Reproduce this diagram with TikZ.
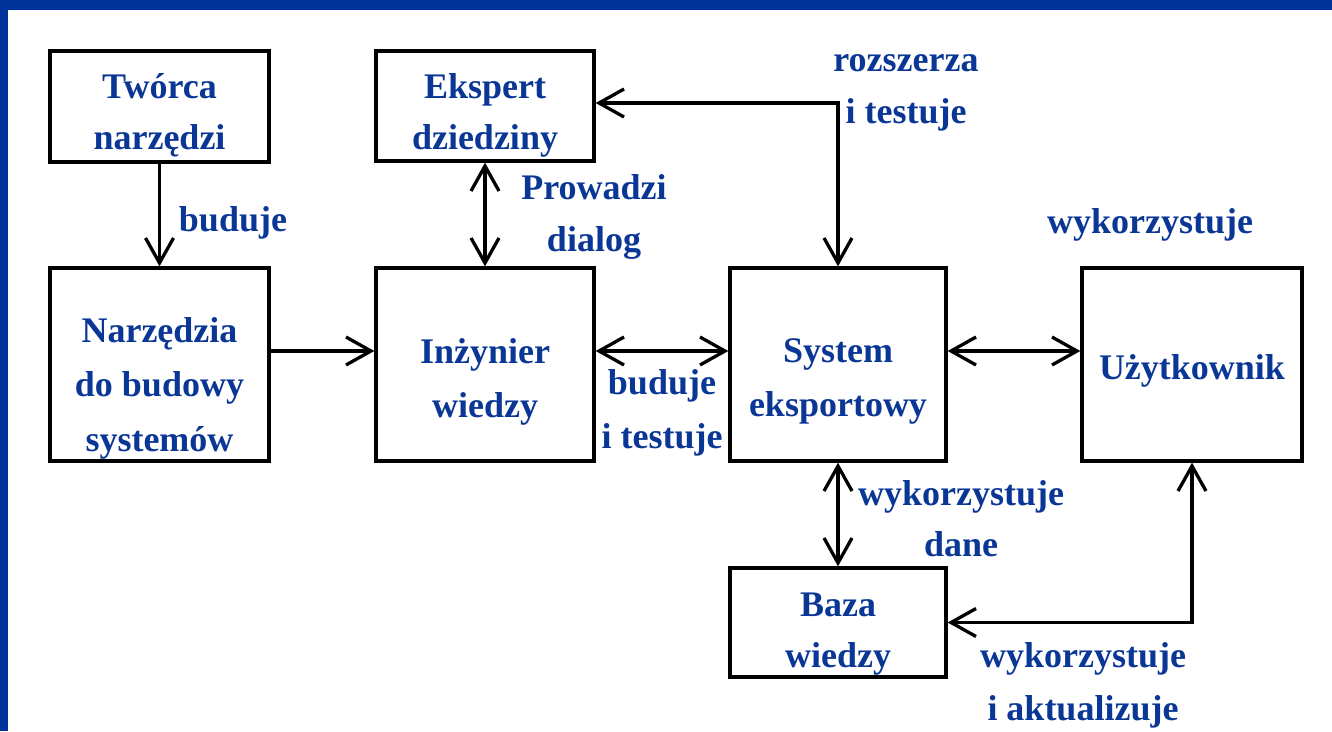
\documentclass[tikz,border=0pt]{standalone}
\usepackage{fontspec}
\setmainfont{Liberation Serif}
\usetikzlibrary{arrows.meta}
\definecolor{barblue}{RGB}{0,51,153}
\definecolor{txtblue}{RGB}{10,55,150}
% multi-line text whose baseline is the first line; #1 = line spacing
\newcommand\mylines[2]{\fontsize{36}{#1}\selectfont\begin{tabular}[t]{@{}c@{}}#2\end{tabular}}
\begin{document}
\begin{tikzpicture}[x=1pt,y=-1pt,
  box/.style={draw=black,line width=3.3pt,fill=white,inner sep=0pt},
  txt/.style={text=txtblue,anchor=base,inner sep=0pt,font=\fontsize{36}{52}\selectfont\bfseries},
  conn/.style={line width=3.3pt,draw=black},
  >={Straight Barb[length=25pt,width=28pt,line width=3.3pt]}]
\useasboundingbox (0,0) rectangle (1332,731);
\fill[white] (0,0) rectangle (1332,731);
\fill[barblue] (0,0) rectangle (1332,10);
\fill[barblue] (0,0) rectangle (8,731);

% boxes
\node[box,minimum width=219pt,minimum height=111pt] (tworca) at (159.5,106.5) {};
\node[box,minimum width=218pt,minimum height=110pt] (ekspert) at (485,106) {};
\node[box,minimum width=219pt,minimum height=193pt] (narz) at (159.5,364.5) {};
\node[box,minimum width=218pt,minimum height=193pt] (inz) at (485,364.5) {};
\node[box,minimum width=216pt,minimum height=193pt] (sys) at (838,364.5) {};
\node[box,minimum width=220pt,minimum height=193pt] (uz) at (1192,364.5) {};
\node[box,minimum width=216pt,minimum height=109pt] (baza) at (838,622.5) {};

% box texts
\node[txt] (tworca-t) at (159.5,98) {\mylines{51}{Twórca\\narzędzi}};
\node[txt] (ekspert-t) at (485,98) {\mylines{51}{Ekspert\\dziedziny}};
\node[txt] (narz-t) at (159.5,342) {\mylines{54.5}{Narzędzia\\do budowy\\systemów}};
\node[txt] (inz-t) at (485,363.5) {\mylines{53.5}{Inżynier\\wiedzy}};
\node[txt] (sys-t) at (838,362.5) {\mylines{54}{System\\eksportowy}};
\node[txt] (uz-t) at (1192,379) {Użytkownik};
\node[txt] (baza-t) at (838,616) {\mylines{51}{Baza\\wiedzy}};

% connectors
\coordinate (r) at (0,351);
\coordinate (c1) at (838,103);
\draw[conn,->] (tworca.south) -- (narz.north);
\draw[conn,->] (narz.east |- r) -- (inz.west |- r);
\draw[conn,<->] (ekspert.south) -- (inz.north);
\draw[conn,<->] (inz.east |- r) -- (sys.west |- r);
\draw[conn,<->] (sys.east |- r) -- (uz.west |- r);
\draw[conn,<->] (ekspert.east |- c1) -- (c1) -- (sys.north);
\draw[conn,<->] (sys.south) -- (baza.north);
\draw[conn,<->] (uz.south) |- (baza.east);

% connector labels
\node[txt] (l1) at (233,231) {buduje};
\node[txt] (l2) at (594,199) {\mylines{52}{Prowadzi\\dialog}};
\node[txt] (l3) at (906,71) {\mylines{52}{rozszerza\\i testuje}};
\node[txt] (l4) at (1150,233) {wykorzystuje};
\node[txt] (l5) at (662,394) {\mylines{54}{buduje\\i testuje}};
\node[txt] (l6) at (961,505) {\mylines{51}{wykorzystuje\\dane}};
\node[txt] (l7) at (1083,667) {\mylines{53}{wykorzystuje\\i aktualizuje}};
\end{tikzpicture}
\end{document}
